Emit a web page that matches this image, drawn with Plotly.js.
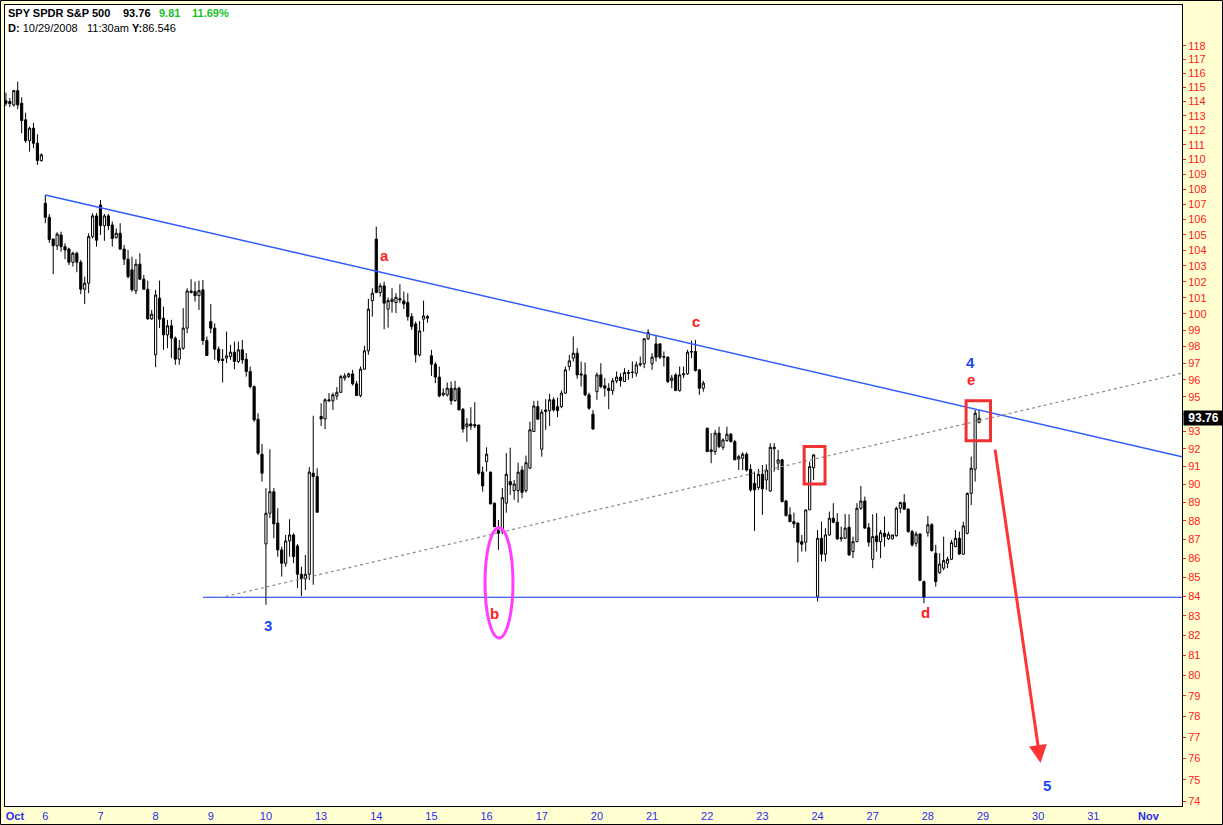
<!DOCTYPE html>
<html>
<head>
<meta charset="utf-8">
<script src="https://cdn.plot.ly/plotly-3.0.1.min.js"></script>
<style>
html,body{margin:0;padding:0;background:#FFFFD2;}
#chart{width:1223px;height:825px;}
</style>
</head>
<body>
<div id="chart"></div>
<script>
// ---- 30-minute bars, SPY, Oct 3 (partial) .. Oct 28 2008 (14 bars per session) ----
const openP = [
 // Oct 3 (last 10 bars)
 114.06,114.00,113.76,114.77,113.88,112.72,111.28,112.14,111.10,109.92,
 // Oct 6
 107.06,106.14,104.72,104.29,104.99,104.23,104.08,103.23,103.81,103.23,101.53,101.91,104.88,106.23,
 // Oct 7
 106.95,105.59,106.23,105.64,104.81,105.10,104.08,103.43,102.75,101.42,103.11,102.16,101.53,99.69,
 // Oct 8
 97.50,100.97,99.73,98.71,99.26,98.51,97.24,97.90,99.12,101.42,101.38,101.13,101.49,98.36,
 // Oct 9
 99.52,99.12,97.84,97.24,97.30,97.40,97.66,97.10,97.80,97.24,96.50,95.61,93.70,91.70,
 // Oct 10
 86.76,88.42,89.60,87.88,86.44,85.73,86.92,87.24,86.65,85.15,84.91,85.15,90.63,90.44,
 // Oct 13
 93.86,93.72,94.83,94.77,95.06,95.27,96.11,96.20,96.36,95.77,95.08,96.64,97.74,100.82,
 // Oct 14
 104.72,101.32,101.74,100.29,100.76,100.70,100.94,100.80,100.70,99.83,99.38,97.50,99.67,99.73,
 // Oct 15
 97.44,96.94,96.17,95.12,95.12,95.51,94.78,95.51,94.28,93.27,93.43,93.39,93.37,90.69,
 // Oct 16
 91.28,90.69,88.97,87.47,87.47,88.97,90.16,89.66,89.66,90.81,89.66,90.91,92.99,94.43,
 // Oct 17
 91.98,94.14,94.20,94.83,94.43,94.43,95.22,96.80,97.30,97.60,96.36,96.30,95.12,93.99,
 // Oct 20
 95.31,96.30,95.65,95.51,95.37,95.95,96.17,95.91,96.44,96.44,96.40,96.90,96.96,98.47,
 // Oct 21
 96.96,98.16,98.16,97.40,97.36,95.97,96.30,95.37,96.30,96.36,97.66,97.70,96.60,95.51,
 // Oct 22
 93.18,91.85,91.85,92.90,92.09,92.47,92.84,92.41,91.42,91.47,91.70,90.85,90.07,89.83,
 // Oct 23
 90.57,90.25,89.64,92.00,91.19,91.38,89.09,88.33,87.96,87.88,86.88,86.85,88.60,90.94,
 // Oct 24
 84.00,87.06,86.21,87.24,88.15,87.93,87.03,87.06,87.66,86.35,86.88,88.69,89.09,87.63,
 // Oct 27
 85.94,87.19,86.88,87.33,87.03,87.03,87.20,88.69,89.00,88.64,87.42,86.79,87.29,84.76,
 // Oct 28
 87.36,87.79,86.26,85.23,85.47,85.73,85.94,86.61,87.06,86.21,87.33,89.51,90.85,93.50
];
const highP = [
 114.63,114.25,114.82,115.41,114.30,113.22,112.25,112.49,111.72,110.42,
 107.61,106.36,104.76,105.16,105.20,104.45,104.17,103.91,103.91,103.38,102.32,105.10,106.41,106.41,
 107.28,106.36,106.36,105.86,105.42,105.75,104.34,104.02,103.59,103.43,103.81,102.43,102.07,100.24,
 101.49,102.07,100.45,99.63,99.63,98.61,98.40,100.35,101.59,102.16,102.01,102.07,102.11,98.61,
 100.60,99.42,98.00,97.84,98.91,98.10,98.30,98.30,98.40,97.60,96.80,95.67,94.05,92.28,
 89.80,91.98,89.80,88.69,86.61,87.24,88.09,87.33,86.76,85.55,86.17,90.97,93.90,90.91,
 94.63,94.92,95.22,95.25,95.57,96.30,96.40,96.44,96.60,95.95,96.80,98.04,100.93,101.59,
 105.53,101.91,102.01,101.01,101.59,101.28,101.84,101.38,101.28,100.04,99.52,99.56,100.82,99.93,
 97.80,97.06,96.80,95.51,95.85,95.91,95.95,95.61,94.34,93.76,94.40,94.69,93.37,91.00,
 92.09,90.72,89.00,88.05,89.80,91.76,92.07,90.25,91.22,91.04,91.62,93.56,94.77,94.78,
 94.28,94.87,95.18,94.98,94.96,95.37,96.80,97.50,98.61,97.90,97.10,97.04,95.25,94.24,
 96.44,97.00,96.11,95.81,96.11,96.50,96.40,96.70,96.60,97.10,97.10,97.40,98.51,99.05,
 97.60,98.71,98.20,97.70,97.40,96.30,96.40,96.80,96.80,97.80,98.36,98.40,96.64,95.95,
 93.22,92.90,93.09,93.27,92.61,93.27,92.90,92.51,91.66,91.81,91.81,91.13,90.72,90.87,
 91.09,91.13,92.32,92.32,91.94,91.44,89.15,88.75,88.45,87.93,87.24,88.60,91.28,91.70,
 87.51,87.96,87.61,88.51,88.97,88.42,87.69,88.38,88.36,87.15,88.97,89.92,89.33,87.88,
 88.36,88.42,87.51,88.24,87.41,87.24,88.78,89.05,89.47,88.69,87.51,87.42,87.33,84.82,
 88.27,87.88,86.71,86.26,87.15,86.08,86.97,87.51,87.42,87.96,89.55,91.56,94.24,94.24
];
const lowP = [
 113.69,113.60,113.64,113.46,111.79,111.14,110.53,110.76,109.63,109.85,
 105.75,104.48,102.47,104.02,103.91,103.43,103.06,102.96,102.60,101.22,100.60,101.28,104.76,104.23,
 104.99,104.61,105.31,104.23,104.76,104.02,103.06,102.22,101.38,101.22,102.11,101.49,99.63,99.63,
 96.76,99.12,97.80,97.90,97.30,96.90,96.90,97.80,98.81,101.28,100.76,100.24,98.10,97.46,
 98.81,97.20,97.00,95.85,97.00,97.20,96.64,97.00,96.96,96.20,95.51,93.56,91.66,90.16,
 83.56,88.15,87.06,86.08,85.03,85.55,86.08,85.73,84.42,84.00,84.33,84.85,84.60,88.47,
 93.31,93.13,94.73,94.24,94.83,95.22,95.95,96.11,95.67,95.08,94.98,96.60,97.50,99.83,
 101.28,101.07,99.05,99.15,100.07,100.04,100.66,100.29,99.58,99.01,97.04,97.40,98.91,99.46,
 96.24,95.81,94.98,95.02,95.02,94.54,94.73,94.24,92.93,92.41,93.09,93.19,90.54,89.60,
 90.72,88.91,87.66,86.44,87.29,88.45,89.42,89.15,89.00,89.24,89.55,90.87,92.97,93.66,
 91.56,93.09,93.31,94.14,93.82,94.34,95.18,96.56,97.10,96.07,95.61,95.06,94.24,93.09,
 94.83,95.51,95.02,94.28,95.12,95.81,95.61,95.91,96.01,96.11,96.20,96.80,96.70,98.40,
 96.60,97.10,97.24,96.80,95.81,95.51,95.37,95.31,96.11,96.30,97.30,96.50,95.12,95.31,
 91.81,91.19,91.66,92.04,91.94,92.41,92.38,91.38,90.81,90.81,90.72,89.60,87.46,89.70,
 88.33,89.70,89.60,90.72,90.81,89.02,88.24,87.93,87.61,85.78,86.35,86.35,88.60,90.25,
 83.73,85.82,85.82,87.20,87.88,86.97,86.88,87.03,86.13,86.00,86.85,88.60,87.57,86.61,
 85.47,86.35,86.00,86.61,86.97,87.00,87.15,88.42,88.60,87.36,86.61,86.61,84.82,83.64,
 87.15,86.35,84.50,85.17,85.36,85.47,85.90,86.58,86.17,86.17,87.27,88.87,90.16,93.48
];
const closeP = [
 113.88,113.85,114.77,113.76,112.67,111.28,112.14,111.10,109.92,110.31,
 106.14,104.70,104.29,105.05,104.23,104.02,103.23,103.81,103.23,101.53,101.91,104.88,106.23,104.65,
 105.59,106.23,105.59,104.76,105.10,104.08,103.43,102.32,101.49,103.11,102.16,101.53,99.69,99.98,
 101.17,99.67,98.71,99.26,98.51,97.24,97.90,99.12,101.42,101.32,101.13,101.44,98.36,97.46,
 99.12,97.84,97.16,97.16,97.44,97.66,97.10,97.80,97.20,96.50,95.61,93.66,91.76,90.63,
 88.42,89.60,87.84,86.44,85.73,86.92,87.24,86.08,85.15,84.91,85.15,90.69,90.44,88.47,
 93.72,94.83,94.77,95.12,95.27,96.20,96.24,96.36,95.77,95.08,96.64,97.74,100.29,101.28,
 101.32,101.74,100.66,100.82,100.91,101.03,100.86,100.61,99.83,99.21,97.50,98.95,99.87,99.83,
 96.94,96.17,95.06,95.22,95.51,94.78,95.51,94.24,93.14,93.43,93.31,93.31,90.63,89.92,
 91.70,88.93,87.69,87.33,89.27,90.57,89.98,90.03,90.69,89.57,91.22,93.09,94.47,93.70,
 94.11,94.24,94.83,94.24,94.20,95.22,96.60,97.14,97.60,96.30,96.30,95.12,94.34,93.14,
 96.30,95.61,95.51,95.37,95.95,96.17,95.97,96.44,96.40,96.46,96.90,96.96,98.47,98.85,
 97.36,97.36,97.36,97.36,95.91,96.11,95.37,96.30,96.36,97.66,97.70,96.56,95.51,95.81,
 91.85,91.94,92.90,92.13,92.51,92.84,92.41,91.38,91.56,91.70,90.81,89.70,89.70,90.57,
 89.76,90.81,92.09,92.09,91.38,89.05,88.29,87.96,87.84,86.85,86.74,88.60,91.00,91.66,
 87.06,86.21,87.24,88.15,87.93,87.03,87.09,87.61,86.17,86.88,88.69,89.09,87.61,86.85,
 87.15,86.88,87.36,87.15,87.28,87.24,88.69,89.00,88.64,87.42,86.71,87.29,84.82,83.95,
 87.79,86.40,84.76,85.69,85.87,85.94,86.83,87.06,86.22,87.73,89.51,90.91,94.05,93.76
];
const firstBarIndex = -10;           // Oct 3 bars sit left of the Oct 6 session

// x-axis day labels (bar index of each session start)
const dayTickIdx  = [-7.7, 0, 14, 28, 42, 56, 70, 84, 98, 112, 126, 140, 154, 168, 182, 196, 210, 224, 238, 252, 266, 280];
const dayTickText = ['<b>Oct</b>','6','7','8','9','10','13','14','15','16','17','20','21','22','23','24','27','28','29','30','31','<b>Nov</b>'];

// y-axis price labels (94 is covered by the last-price badge)
const priceTicks = [];
for (let p = 74; p <= 118; p++) priceTicks.push(p);
const hiddenTick = 94;

// drawn studies (bar index, price)
const trendIdx    = [0, 288.5];      const trendPrice    = [107.61, 91.56];
const supportIdx  = [40, 288.5];     const supportPrice  = [83.95, 83.95];
const dottedIdx   = [44.3, 288.5];   const dottedPrice   = [83.92, 96.40];
const boxAIdx = [192.6, 197.9]; const boxAPrice = [90.03, 92.13];
const boxBIdx = [233.7, 239.9]; const boxBPrice = [92.47, 94.78];
const ovalIdx = [111.6, 118.7]; const ovalPrice = [81.87, 87.63];
const arrowTipIdx = 252.6, arrowTipPrice = 75.78;

// wave labels
const waveText  = ['a','b','c','d','e','4','3','5'];
const waveIdx   = [86.2, 114.1, 165.1, 223.3, 234.9, 234.9, 56.5, 254.2];
const wavePrice = [103.64, 83.09, 99.50, 83.16, 96.0, 97.02, 82.48, 74.72];
const waveColor = ['#FF2020','#FF2020','#FF2020','#FF2020','#FF2020','#1E46F5','#1E46F5','#1E46F5'];

const lastPrice = 93.76;

const xIdx = openP.map((_, k) => k + firstBarIndex);

const FONT = 'Liberation Sans, Arial, sans-serif';
const W = 1223, H = 825, ML = 5, MR = 41, MT = 5, MB = 19;
const PW = W - ML - MR, PH = H - MT - MB;
const px2paperX = px => (px - ML) / PW;
const px2paperY = py => (H - MB - py) / PH;

const traces = [
  {
    type: 'candlestick', x: xIdx, open: openP, high: highP, low: lowP, close: closeP,
    increasing: {line: {color: '#000', width: 1}, fillcolor: '#FFFFFF'},
    decreasing: {line: {color: '#000', width: 1}, fillcolor: '#000000'},
    whiskerwidth: 0, hoverinfo: 'skip', showlegend: false
  },
  {type: 'scatter', mode: 'lines', x: trendIdx, y: trendPrice, line: {color: '#2F5BFF', width: 1.5}, hoverinfo: 'skip', showlegend: false},
  {type: 'scatter', mode: 'lines', x: supportIdx, y: supportPrice, line: {color: '#0A32FF', width: 1.2}, hoverinfo: 'skip', showlegend: false},
  {type: 'scatter', mode: 'lines', x: dottedIdx, y: dottedPrice, line: {color: '#8A8A8A', width: 1.2, dash: 'dot'}, hoverinfo: 'skip', showlegend: false}
];

const annotations = [];
waveText.forEach((t, k) => annotations.push({
  x: waveIdx[k], y: Math.log10(wavePrice[k]), xref: 'x', yref: 'y', text: '<b>' + t + '</b>',
  showarrow: false, font: {family: FONT, size: 15, color: waveColor[k]}
}));
// forecast arrow
annotations.push({
  x: arrowTipIdx, y: Math.log10(arrowTipPrice), xref: 'x', yref: 'y', text: '',
  showarrow: true, ax: -45.7, ay: -315, arrowhead: 2, arrowsize: 1.2, arrowwidth: 3,
  arrowcolor: '#FF3535', standoff: 0
});
// last price badge
annotations.push({
  x: px2paperX(1183), xref: 'paper', xanchor: 'left', y: Math.log10(lastPrice), yref: 'y', yanchor: 'middle',
  text: '<b>' + lastPrice.toFixed(2) + '</b>', showarrow: false, bgcolor: '#000', width: 37, height: 12,
  align: 'center', font: {family: FONT, size: 12, color: '#FFF'}, borderpad: 1
});
// header texts
const header = [
  {t: '<b>SPY SPDR S&P 500</b>', px: 6, py: 12.5, c: '#000'},
  {t: '<b>93.76</b>', px: 121, py: 12.5, c: '#000'},
  {t: '<b>9.81</b>', px: 157, py: 12.5, c: '#19C02A'},
  {t: '<b>11.69%</b>', px: 190, py: 12.5, c: '#19C02A'},
  {t: '<b>D:</b> 10/29/2008', px: 6, py: 28, c: '#000'},
  {t: '11:30am', px: 85, py: 28, c: '#000'},
  {t: '<b>Y:</b>86.546', px: 130, py: 28, c: '#000'}
];
header.forEach(h => annotations.push({
  x: px2paperX(h.px), y: px2paperY(h.py), xref: 'paper', yref: 'paper', xanchor: 'left', yanchor: 'middle',
  text: h.t, showarrow: false, font: {family: FONT, size: 11, color: h.c}
}));

const shapes = [
  {type: 'rect', xref: 'x', yref: 'y', x0: boxAIdx[0], x1: boxAIdx[1], y0: boxAPrice[0], y1: boxAPrice[1], line: {color: '#F03232', width: 3}},
  {type: 'rect', xref: 'x', yref: 'y', x0: boxBIdx[0], x1: boxBIdx[1], y0: boxBPrice[0], y1: boxBPrice[1], line: {color: '#F03232', width: 3}},
  {type: 'circle', xref: 'x', yref: 'y', x0: ovalIdx[0], x1: ovalIdx[1], y0: ovalPrice[0], y1: ovalPrice[1], line: {color: '#FF3CFF', width: 3}},
  // outer frame of the picture
  {type: 'rect', xref: 'paper', yref: 'paper', x0: px2paperX(0.5), x1: px2paperX(1222.5), y0: px2paperY(824.5), y1: px2paperY(0.5), line: {color: '#000', width: 1}, layer: 'above'}
];

const layout = {
  width: W, height: H, autosize: false,
  margin: {l: ML, r: MR, t: MT, b: MB, pad: 0},
  paper_bgcolor: '#FFFFD2', plot_bgcolor: '#FFFFFF',
  showlegend: false, dragmode: false, boxgap: 0.45, boxgroupgap: 0,
  font: {family: FONT, size: 11},
  xaxis: {
    type: 'linear', range: [-10.23, 288.5], rangeslider: {visible: false},
    showgrid: false, zeroline: false, showline: true, mirror: true, linecolor: '#000', linewidth: 1,
    tickmode: 'array', tickvals: dayTickIdx, ticktext: dayTickText, ticks: '',
    tickfont: {family: FONT, size: 11, color: '#2A2AF0'}, ticklabelstandoff: 0, fixedrange: true
  },
  yaxis: {
    type: 'log', side: 'right', range: [Math.log10(73.8), Math.log10(121.0)],
    showgrid: false, zeroline: false, showline: true, mirror: true, linecolor: '#000', linewidth: 1,
    tickmode: 'array', tickvals: priceTicks, ticktext: priceTicks.map(p => p === hiddenTick ? '' : String(p)),
    ticks: 'outside', ticklen: 3, tickcolor: '#FF2020', tickwidth: 1,
    tickfont: {family: FONT, size: 11, color: '#FF2020'}, fixedrange: true
  },
  annotations: annotations,
  shapes: shapes
};

Plotly.newPlot('chart', traces, layout, {displayModeBar: false, staticPlot: true});
</script>
</body>
</html>
